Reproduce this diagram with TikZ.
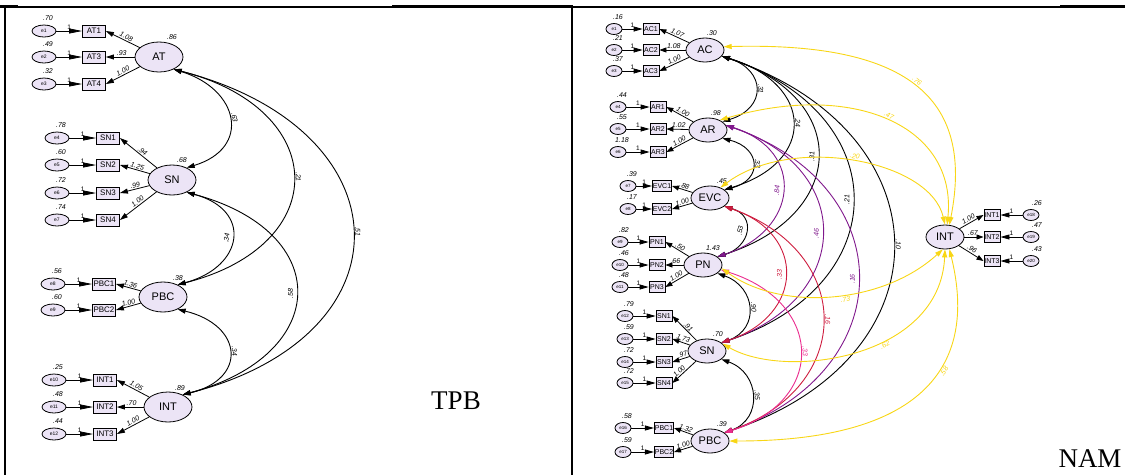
\documentclass[tikz,border=0pt]{standalone}
\usepackage{fontspec}
\setmainfont{Liberation Serif}
\setsansfont{Liberation Sans}
\usetikzlibrary{arrows.meta, shapes, positioning}
\definecolor{latfill}{RGB}{236,228,246}
\definecolor{covyellow}{RGB}{248,214,22}
\definecolor{covpurple}{RGB}{128,24,140}
\definecolor{covred}{RGB}{206,28,62}
\definecolor{covpink}{RGB}{234,44,142}
\tikzset{
  lat/.style={ellipse, draw, fill=latfill, inner sep=0pt, line width=0.8pt},
  ind/.style={rectangle, draw, fill=latfill, inner xsep=0.5pt, inner ysep=0pt, line width=0.8pt},
  err/.style={ellipse, draw, fill=latfill, inner sep=0pt, line width=0.8pt},
  num/.style={font=\sffamily\itshape\fontsize{7}{8}\selectfont, inner sep=1pt},
  one/.style={font=\sffamily\fontsize{6.5}{7}\selectfont, inner sep=1pt},
  pto/.style={-{Triangle[length=#1, width=5pt]}, line width=0.8pt},
  pto/.default=8pt,
  cov/.style={{Triangle[length=8pt, width=5pt]}-{Triangle[length=8pt, width=5pt]}, line width=0.9pt},
  lbl/.style={font=\fontsize{27}{30}\selectfont}
}

\begin{document}
\begin{tikzpicture}[x=1pt, y=-1pt]
  \useasboundingbox (0,0) rectangle (1125,475);

  % table rules
  \draw[line width=1.2pt] (0,7) -- (1125,7);
  \draw[line width=2.4pt] (0,6) -- (18,6);
  \draw[line width=2.4pt] (392,6.5) -- (573,6.5);
  \draw[line width=2.4pt] (1060,6.5) -- (1125,6.5);
  \draw[line width=1.6pt] (5,6) -- (5,475);
  \draw[line width=1.6pt] (572,6) -- (572,475);

  %%% TPB model
  \begin{scope}[lat/.append style={minimum width=48pt, minimum height=30pt, font=\sffamily\fontsize{11}{12}\selectfont},
                ind/.append style={minimum width=23pt, minimum height=12pt, font=\sffamily\fontsize{8}{9}\selectfont},
                err/.append style={minimum width=24pt, minimum height=12pt, font=\sffamily\fontsize{5}{6}\selectfont}]
    \node[lat] (tAT) at (159,57) {AT};
    \node[lat] (tSN) at (172,180) {SN};
    \node[lat] (tPBC) at (163,297) {PBC};
    \node[lat] (tINT) at (168,407) {INT};
    \node[num] at (172,37) {.86};
    \node[num] at (182,160) {.68};
    \node[num] at (178,278) {.38};
    \node[num] at (180,388) {.89};

    \foreach \lat/\ex/\ix/\ind/\e/\y/\v/\w in {
      AT/44/94/AT1/1/31/.70/1.08, AT/44/94/AT3/2/57/.49/.93, AT/44/94/AT4/3/84/.32/1.00,
      SN/57/108/SN1/4/138/.78/.94, SN/57/108/SN2/5/165/.60/1.25, SN/57/108/SN3/6/193/.72/.99, SN/57/108/SN4/7/220/.74/1.00,
      PBC/53/104/PBC1/8/284/.56/1.36, PBC/53/104/PBC2/9/310/.60/1.00,
      INT/54/105/INT1/10/380/.25/1.05, INT/54/105/INT2/11/407/.48/.70, INT/54/105/INT3/12/434/.44/1.00} {
      \node[err] (te\e) at (\ex,\y) {e\e};
      \node[ind] (t\ind) at (\ix,\y) {\ind};
      \node[num] at (\ex+4,\y-13) {\v};
      \draw[pto=13pt] (te\e) -- (t\ind) node[one, midway, above] {1};
      \draw[pto] (t\lat) -- (t\ind.east) node[num, pos=.45, sloped, above] {\w};
    }

    % covariances
    \draw[cov] (tAT.-40) .. controls (239,89) and (252,148) .. (tSN.40) node[num, pos=.5, sloped, above=1.5pt] {.63};
    \draw[cov] (tAT.-40) .. controls (330,109) and (334,245) .. (tPBC.40) node[num, pos=.5, sloped, above=1.5pt] {.21};
    \draw[cov] (tAT.-40) .. controls (406,129) and (415,335) .. (tINT.40) node[num, pos=.5, sloped, above=1.5pt] {.51};
    \draw[cov] (tSN.-40) .. controls (253,210) and (244,267) .. (tPBC.40) node[num, pos=.5, sloped, above=1.5pt] {.34};
    \draw[cov] (tSN.-40) .. controls (335,232) and (331,355) .. (tINT.40) node[num, pos=.5, sloped, above=1.5pt] {.58};
    \draw[cov] (tPBC.-40) .. controls (243,325) and (248,379) .. (tINT.40) node[num, pos=.5, sloped, above=1.5pt] {.34};

    \node[lbl] (tpb) at (456,401) {TPB};
  \end{scope}

  %%% NAM model
  \begin{scope}[lat/.append style={minimum width=38pt, minimum height=24pt, font=\sffamily\fontsize{11}{12}\selectfont},
                ind/.append style={minimum width=16pt, minimum height=11pt, font=\sffamily\fontsize{7}{8}\selectfont},
                err/.append style={minimum width=16pt, minimum height=11pt, font=\sffamily\fontsize{4.5}{5}\selectfont}]
    \node[lat] (nAC) at (705,50) {AC};
    \node[lat] (nAR) at (708,130) {AR};
    \node[lat] (nEVC) at (710,198) {EVC};
    \node[lat] (nPN) at (703,265) {PN};
    \node[lat] (nSN) at (707,351) {SN};
    \node[lat] (nPBC) at (710,441) {PBC};
    \node[lat] (nINT) at (945,237) {INT};
    \node[num] at (712,33) {.30};
    \node[num] at (716,113) {.98};
    \node[num] at (722,181) {.45};
    \node[num] at (713,248) {1.43};
    \node[num] at (718,334) {.70};
    \node[num] at (722,424) {.39};

    \foreach \lat/\ex/\ix/\ind/\e/\y/\v/\w/\p in {
      AC/614/651/AC1/1/29/.16/1.07/.45, AC/614/651/AC2/2/50/.21/1.08/.45, AC/614/651/AC3/3/71/.37/1.00/.45,
      AR/618/658/AR1/4/107/.44/1.00/.45, AR/618/658/AR2/5/129/.55/1.02/.45, AR/618/658/AR3/6/152/1.18/1.00/.45,
      EVC/628/662/EVC1/7/186/.39/.88/.45, EVC/628/662/EVC2/8/209/.17/1.00/.45,
      PN/620/657/PN1/9/242/.82/.50/.45, PN/620/657/PN2/10/265/.46/.66/.45, PN/620/657/PN3/11/287/.48/1.00/.45,
      SN/625/664/SN1/12/316/.79/.91/.45, SN/625/664/SN2/13/339/.59/1.73/.45, SN/625/664/SN3/14/362/.72/.97/.35, SN/625/664/SN4/15/383/.72/1.00/.6,
      PBC/623/664/PBC1/16/428/.58/1.32/.45, PBC/623/664/PBC2/17/452/.59/1.00/.45} {
      \node[err] (ne\e) at (\ex,\y) {e\e};
      \node[ind] (n\ind) at (\ix,\y) {\ind};
      \node[num] at (\ex+4,\y-12) {\v};
      \draw[pto=9pt] (ne\e) -- (n\ind) node[one, midway, above] {1};
      \draw[pto=7pt] (n\lat) -- (n\ind.east) node[num, pos=\p, sloped, above] {\w};
    }
    \foreach \ind/\e/\y/\v/\w in {INT1/18/215/.26/1.00, INT2/19/237/.47/.67, INT3/20/261/.43/.96} {
      \node[err] (ne\e) at (1031,\y) {e\e};
      \node[ind] (n\ind) at (992,\y) {\ind};
      \node[num] at (1037,\y-12) {\v};
      \draw[pto=9pt] (ne\e) -- (n\ind) node[one, midway, above] {1};
      \draw[pto=7pt] (nINT) -- (n\ind.west) node[num, pos=.45, sloped, above] {\w};
    }

    % covariances among the predictors
    \draw[cov] (nAC.-20) .. controls (766,70) and (767,108) .. (nAR.30) node[num, pos=.5, sloped, above=1.5pt] {.31};
    \draw[cov] (nAC.-20) .. controls (814,84) and (817,162) .. (nEVC.30) node[num, pos=.5, sloped, above=1.5pt] {.24};
    \draw[cov] (nAC.-20) .. controls (852,98) and (848,215) .. (nPN.30) node[num, pos=.5, sloped, above=1.5pt] {.31};
    \draw[cov] (nAC.-20) .. controls (896,114) and (896,285) .. (nSN.30) node[num, pos=.5, sloped, above=1.5pt] {.21};
    \draw[cov] (nAC.-20) .. controls (948,132) and (951,357) .. (nPBC.30) node[num, pos=.5, sloped, above=1.5pt] {.10};
    \draw[cov] (nAR.-30) .. controls (761,148) and (763,180) .. (nEVC.30) node[num, pos=.5, sloped, above=1.5pt] {.33};
    \draw[cov] (nEVC.-30) .. controls (757,216) and (750,247) .. (nPN.30) node[num, pos=.5, sloped, above=1.5pt] {.53};
    \draw[cov] (nPN.-30) .. controls (756,287) and (760,329) .. (nSN.30) node[num, pos=.5, sloped, above=1.5pt] {.90};
    \draw[cov] (nSN.-30) .. controls (760,373) and (763,419) .. (nPBC.30) node[num, pos=.5, sloped, above=1.5pt] {.35};
    \draw[cov, covpurple] (nAR.15) .. controls (807,151) and (798,231) .. (nPN.30) node[num, pos=.5, sloped, above=1.5pt] {.84};
    \draw[cov, covpurple] (nAR.15) .. controls (857,169) and (852,299) .. (nSN.30) node[num, pos=.5, sloped, above=1.5pt] {.46};
    \draw[cov, covpurple] (nAR.15) .. controls (903,187) and (901,371) .. (nPBC.30) node[num, pos=.5, sloped, above=1.5pt] {.16};
    \draw[cov, covred] (nEVC.-30) .. controls (807,234) and (804,315) .. (nSN.30) node[num, pos=.5, sloped, above=1.5pt] {.33};
    \draw[cov, covred] (nEVC.-30) .. controls (855,252) and (855,387) .. (nPBC.30) node[num, pos=.5, sloped, above=1.5pt] {.16};
    \draw[cov, covpink] (nPN.-15) .. controls (824,302) and (827,401) .. (nPBC.30) node[num, pos=.5, sloped, above=1.5pt] {.33};

    % covariances with INT
    \draw[cov, covyellow] (nAC.10) .. controls (904,42) and (975,95) .. (nINT.70) node[num, pos=.5, sloped, above=1.5pt] {.76};
    \draw[cov, covyellow] (nAR.40) .. controls (852,81) and (957,125) .. (nINT.80) node[num, pos=.5, sloped, above=1.5pt] {.47};
    \draw[cov, covyellow] (nEVC.45) .. controls (792,134) and (930,160) .. (nINT.90) node[num, pos=.5, sloped, above=1.5pt] {.20};
    \draw[cov, covyellow] (nPN.-10) .. controls (782,312) and (883,304) .. (nINT.-100) node[num, pos=.55, sloped, below=1.5pt] {.73};
    \draw[cov, covyellow] (nSN.25) .. controls (785,380) and (940,359) .. (nINT.-90) node[num, pos=.6, sloped, below=1.5pt] {.62};
    \draw[cov, covyellow] (nPBC.0) .. controls (919,441) and (979,369) .. (nINT.-70) node[num, pos=.6, sloped, below=1.5pt] {.58};

    \node[lbl] (nam) at (1090,459) {NAM};
  \end{scope}
\end{tikzpicture}
\end{document}
